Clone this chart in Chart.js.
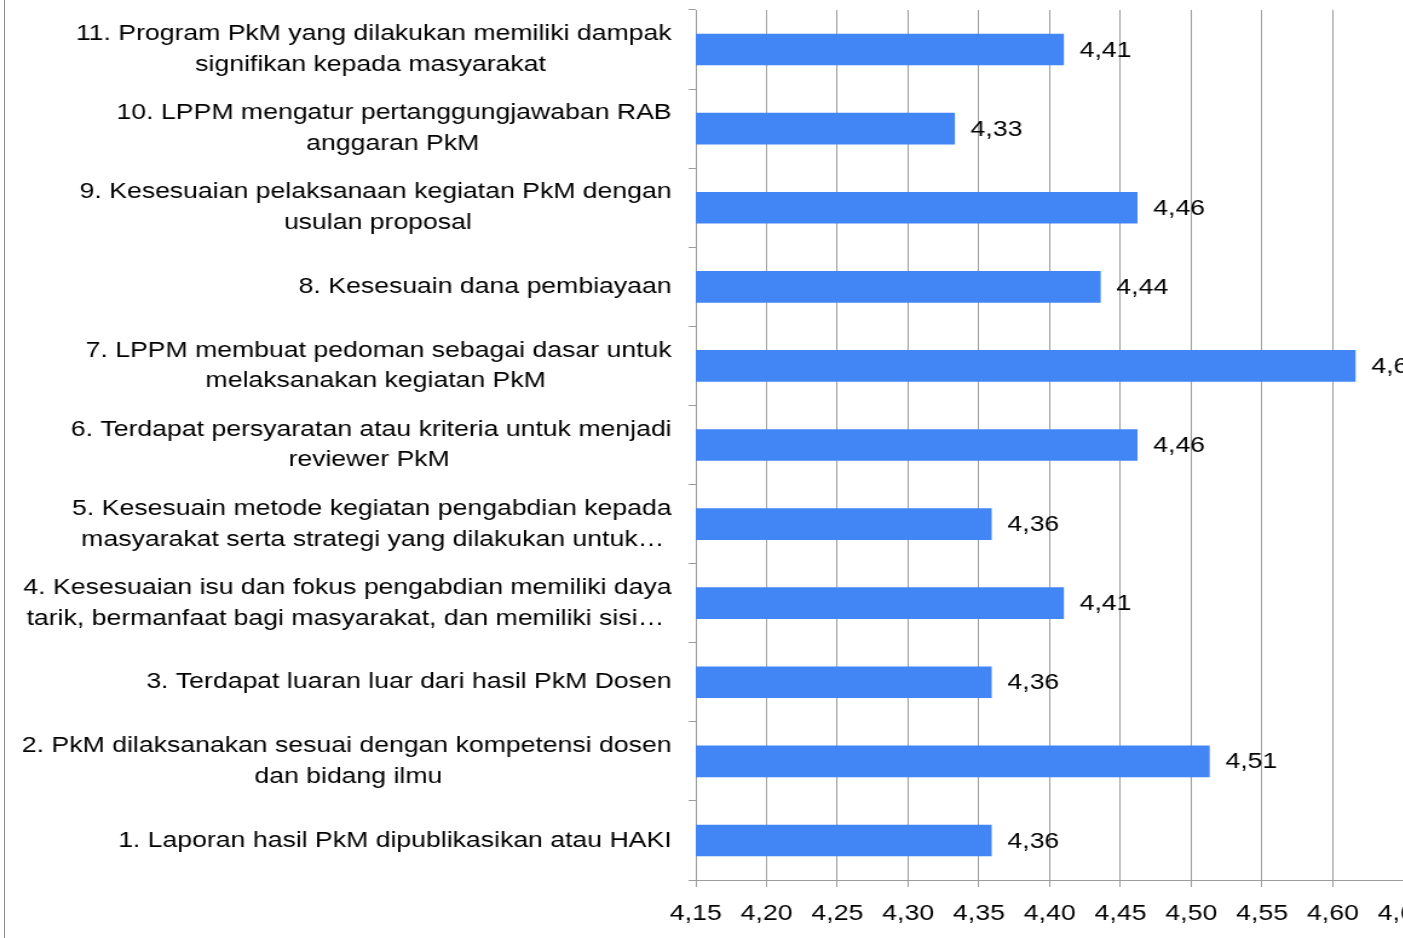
<!DOCTYPE html>
<html><head><meta charset="utf-8">
<script src="https://cdn.jsdelivr.net/npm/chart.js@4/dist/chart.umd.min.js"></script>
<style>
html,body{margin:0;padding:0;background:#fff;overflow:hidden;width:1403px;height:938px;}
#wrap{position:relative;width:1403px;height:938px;overflow:hidden;}
#c{position:absolute;left:0;top:0;}
#frame{position:absolute;left:4px;top:0;width:1px;height:938px;background:#8c8c8c;}
</style></head><body>
<div id="wrap"><canvas id="c" width="1190" height="938" style="width:1440px;height:938px"></canvas><div id="frame"></div></div>
<script>
// Categories (bottom to top), split into their displayed lines
const categoryLines = [
  ["1. Laporan hasil PkM dipublikasikan atau HAKI"],
  ["2. PkM dilaksanakan sesuai dengan kompetensi dosen", "dan bidang ilmu"],
  ["3. Terdapat luaran luar dari hasil PkM Dosen"],
  ["4. Kesesuaian isu dan fokus pengabdian memiliki daya", "tarik, bermanfaat bagi masyarakat, dan memiliki sisi\u2026"],
  ["5. Kesesuain metode kegiatan pengabdian kepada", "masyarakat serta strategi yang dilakukan untuk\u2026"],
  ["6. Terdapat persyaratan atau kriteria untuk menjadi", "reviewer PkM"],
  ["7. LPPM membuat pedoman sebagai dasar untuk", "melaksanakan kegiatan PkM"],
  ["8. Kesesuain dana pembiayaan"],
  ["9. Kesesuaian pelaksanaan kegiatan PkM dengan", "usulan proposal"],
  ["10. LPPM mengatur pertanggungjawaban RAB", "anggaran PkM"],
  ["11. Program PkM yang dilakukan memiliki dampak", "signifikan kepada masyarakat"]
];
// Scores (same order)
const scores = [4.359, 4.513, 4.359, 4.41, 4.359, 4.462, 4.616, 4.436, 4.462, 4.333, 4.41];
// X axis range / tick step
const xMin = 4.15;
const xMax = 4.65;
const xStep = 0.05;

const FONT_FAMILY = '"Liberation Sans", Arial, sans-serif';
const FONT_SIZE = 22;
const fmt = v => v.toFixed(2).replace('.', ',');

// centre the lines of each label on each other (right-aligned longest line)
function centerLines(lines) {
  const ctx = document.createElement('canvas').getContext('2d');
  ctx.font = FONT_SIZE + 'px ' + FONT_FAMILY;
  const w = lines.map(l => ctx.measureText(l).width);
  const maxW = Math.max(...w);
  const sp = ctx.measureText(' ').width;
  return lines.map((l, i) => l + ' '.repeat(Math.max(0, Math.round((maxW - w[i]) / 2 / sp))));
}
const labels = categoryLines.map(centerLines);

const valueLabels = {
  id: 'valueLabels',
  afterDatasetsDraw(chart) {
    const ctx = chart.ctx;
    const meta = chart.getDatasetMeta(0);
    ctx.save();
    ctx.font = FONT_SIZE + 'px ' + FONT_FAMILY;
    ctx.fillStyle = '#000';
    ctx.textAlign = 'left';
    ctx.textBaseline = 'middle';
    meta.data.forEach((bar, i) => {
      ctx.fillText(fmt(scores[i]), bar.x + 13, bar.y + 1);
    });
    ctx.restore();
  }
};

const GRID = '#9c9c9c';
new Chart(document.getElementById('c'), {
  type: 'bar',
  data: {
    labels: labels,
    datasets: [{
      data: scores,
      backgroundColor: '#4285f4',
      borderWidth: 0,
      barPercentage: 0.8,
      categoryPercentage: 0.5
    }]
  },
  options: {
    indexAxis: 'y',
    responsive: false,
    animation: false,
    events: [],
    layout: { padding: { top: 10, right: 30, bottom: 0, left: 0 } },
    plugins: { legend: { display: false }, tooltip: { enabled: false } },
    scales: {
      x: {
        min: xMin, max: xMax,
        ticks: {
          stepSize: xStep,
          callback: v => fmt(v),
          color: '#000',
          font: { family: FONT_FAMILY, size: FONT_SIZE },
          padding: 14,
          maxRotation: 0, autoSkip: false
        },
        grid: { color: GRID, lineWidth: 1, tickLength: 7 },
        border: { color: GRID, width: 1 },
        afterFit: s => { s.height = 58; s.paddingLeft = 0; s.paddingRight = 0; }
      },
      y: {
        reverse: true,
        ticks: {
          color: '#000',
          font: { family: FONT_FAMILY, size: FONT_SIZE, lineHeight: 1.4 },
          padding: 14,
          autoSkip: false
        },
        grid: { color: GRID, drawOnChartArea: false, tickLength: 6, offset: true },
        border: { color: GRID, width: 1 },
        afterFit: s => { s.width = 575; s.paddingTop = 0; s.paddingBottom = 0; }
      }
    }
  },
  plugins: [valueLabels]
});
</script>
</body></html>
